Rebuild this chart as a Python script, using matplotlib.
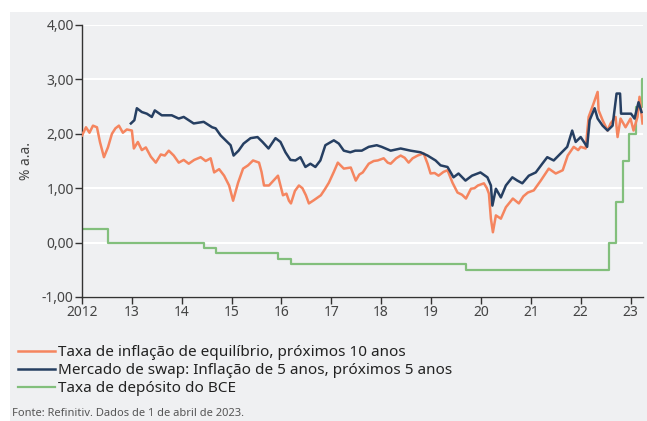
import matplotlib
matplotlib.use("Agg")
import matplotlib.pyplot as plt
from matplotlib.patches import Rectangle
from matplotlib.ticker import FuncFormatter

plt.rcParams["font.family"] = ["Noto Sans", "DejaVu Sans"]

# taxa de inflacao de equilibrio, proximos 10 anos (ano decimal, %)
be_x = [2012.00, 2012.08, 2012.15, 2012.22, 2012.30, 2012.36, 2012.44, 2012.52, 2012.60, 2012.67,
        2012.74, 2012.82, 2012.90, 2013.00, 2013.04, 2013.12, 2013.20, 2013.28, 2013.38, 2013.48,
        2013.58, 2013.66, 2013.74, 2013.84, 2013.94, 2014.04, 2014.14, 2014.25, 2014.38, 2014.48,
        2014.58, 2014.65, 2014.75, 2014.85, 2014.95, 2015.03, 2015.13, 2015.23, 2015.33, 2015.43,
        2015.55, 2015.60, 2015.65, 2015.75, 2015.85, 2015.93, 2016.03, 2016.10, 2016.15, 2016.19,
        2016.27, 2016.35, 2016.42, 2016.49, 2016.55, 2016.65, 2016.79, 2016.87, 2016.95, 2017.05,
        2017.13, 2017.25, 2017.39, 2017.49, 2017.56, 2017.63, 2017.75, 2017.85, 2017.93, 2018.05,
        2018.13, 2018.19, 2018.30, 2018.39, 2018.47, 2018.55, 2018.63, 2018.73, 2018.85, 2018.93,
        2018.99, 2019.07, 2019.15, 2019.25, 2019.33, 2019.43, 2019.53, 2019.62, 2019.70, 2019.80,
        2019.87, 2019.94, 2020.06, 2020.12, 2020.16, 2020.20, 2020.24, 2020.30, 2020.40, 2020.50,
        2020.64, 2020.76, 2020.85, 2020.94, 2021.06, 2021.20, 2021.36, 2021.50, 2021.64, 2021.74,
        2021.86, 2021.95, 2022.00, 2022.10, 2022.16, 2022.26, 2022.34, 2022.36, 2022.44, 2022.54,
        2022.60, 2022.70, 2022.74, 2022.80, 2022.90, 2023.00, 2023.06, 2023.14, 2023.18, 2023.24]
be_y = [1.97, 2.12, 2.02, 2.15, 2.12, 1.85, 1.57, 1.75, 2.00, 2.10,
        2.15, 2.02, 2.08, 2.06, 1.73, 1.85, 1.70, 1.75, 1.58, 1.47,
        1.62, 1.60, 1.69, 1.60, 1.47, 1.52, 1.45, 1.52, 1.57, 1.50,
        1.55, 1.29, 1.35, 1.23, 1.05, 0.77, 1.10, 1.36, 1.42, 1.51,
        1.47, 1.30, 1.05, 1.05, 1.15, 1.23, 0.87, 0.90, 0.77, 0.72,
        0.95, 1.05, 1.00, 0.87, 0.72, 0.78, 0.87, 0.98, 1.10, 1.30,
        1.47, 1.36, 1.38, 1.14, 1.25, 1.29, 1.45, 1.50, 1.51, 1.55,
        1.47, 1.45, 1.55, 1.60, 1.56, 1.47, 1.55, 1.60, 1.64, 1.45,
        1.27, 1.28, 1.23, 1.30, 1.33, 1.10, 0.92, 0.88, 0.81, 0.99,
        1.00, 1.05, 1.09, 1.00, 0.90, 0.44, 0.19, 0.50, 0.44, 0.65,
        0.81, 0.72, 0.85, 0.92, 0.96, 1.14, 1.36, 1.27, 1.33, 1.60,
        1.76, 1.70, 1.76, 1.73, 2.31, 2.56, 2.77, 2.43, 2.25, 2.06,
        2.19, 2.31, 1.94, 2.28, 2.12, 2.28, 2.06, 2.31, 2.68, 2.19]

# mercado de swap: inflacao de 5 anos, proximos 5 anos
sw_x = [2012.98, 2013.05, 2013.10, 2013.20, 2013.30, 2013.40, 2013.46, 2013.60, 2013.80, 2013.94,
        2014.04, 2014.14, 2014.24, 2014.44, 2014.61, 2014.68, 2014.78, 2014.88, 2014.98, 2015.04,
        2015.14, 2015.24, 2015.38, 2015.52, 2015.62, 2015.74, 2015.88, 2015.98, 2016.08, 2016.18,
        2016.28, 2016.38, 2016.48, 2016.58, 2016.68, 2016.78, 2016.88, 2017.05, 2017.15, 2017.25,
        2017.38, 2017.48, 2017.61, 2017.75, 2017.91, 2018.01, 2018.19, 2018.39, 2018.59, 2018.79,
        2018.93, 2019.09, 2019.19, 2019.33, 2019.45, 2019.55, 2019.69, 2019.82, 2019.99, 2020.13,
        2020.20, 2020.23, 2020.30, 2020.40, 2020.50, 2020.63, 2020.73, 2020.83, 2020.96, 2021.10,
        2021.23, 2021.33, 2021.46, 2021.60, 2021.73, 2021.83, 2021.90, 2022.00, 2022.13, 2022.18,
        2022.28, 2022.34, 2022.44, 2022.54, 2022.64, 2022.72, 2022.79, 2022.81, 2022.91, 2023.01,
        2023.08, 2023.16, 2023.22]
sw_y = [2.19, 2.25, 2.47, 2.40, 2.37, 2.31, 2.43, 2.34, 2.34, 2.28,
        2.31, 2.25, 2.19, 2.22, 2.12, 2.10, 1.97, 1.88, 1.79, 1.60,
        1.69, 1.82, 1.92, 1.94, 1.85, 1.73, 1.92, 1.85, 1.66, 1.52,
        1.51, 1.57, 1.39, 1.45, 1.39, 1.51, 1.79, 1.88, 1.82, 1.69,
        1.66, 1.69, 1.69, 1.76, 1.79, 1.76, 1.69, 1.73, 1.69, 1.66,
        1.60, 1.51, 1.42, 1.39, 1.20, 1.27, 1.14, 1.23, 1.29, 1.20,
        1.05, 0.68, 0.99, 0.83, 1.05, 1.20, 1.14, 1.09, 1.23, 1.29,
        1.45, 1.57, 1.51, 1.64, 1.76, 2.06, 1.85, 1.94, 1.76, 2.25,
        2.47, 2.28, 2.15, 2.06, 2.15, 2.74, 2.74, 2.37, 2.37, 2.37,
        2.28, 2.58, 2.40]

# taxa de deposito do BCE
bce_x = [2012.00, 2012.53, 2014.44, 2014.68, 2015.94, 2016.20, 2019.71,
         2022.57, 2022.70, 2022.84, 2022.97, 2023.10, 2023.22, 2023.25]
bce_y = [0.25, 0.00, -0.10, -0.20, -0.30, -0.40, -0.50,
         0.00, 0.75, 1.50, 2.00, 2.50, 3.00, 3.00]

year_ticks = list(range(2012, 2024))
year_labels = ["2012"] + [str(y)[2:] for y in year_ticks[1:]]
y_ticks = [-1, 0, 1, 2, 3, 4]

bg = "#eff0f2"
c_orange = "#f5855f"
c_blue = "#263f62"
c_green = "#82bf7c"

fig = plt.figure(figsize=(6.47, 4.21), dpi=100)
fig.patch.set_facecolor("white")
fig.patches.append(Rectangle((10 / 647, 0), 1, (421 - 12) / 421,
                             transform=fig.transFigure, facecolor=bg,
                             edgecolor="none", zorder=-10))

ax = fig.add_axes([82 / 647, 124 / 421, 561 / 647, 272 / 421])
ax.set_facecolor(bg)

ax.plot(be_x, be_y, color=c_orange, lw=1.8, label="Taxa de inflação de equilíbrio, próximos 10 anos", zorder=3)
ax.plot(sw_x, sw_y, color=c_blue, lw=1.8, label="Mercado de swap: Inflação de 5 anos, próximos 5 anos", zorder=4)
ax.step(bce_x, bce_y, where="post", color=c_green, lw=1.6, label="Taxa de depósito do BCE", zorder=2)

ax.set_xlim(2012, 2023.25)
ax.set_ylim(-1, 4)
ax.set_xticks(year_ticks)
ax.set_xticklabels(year_labels)
ax.set_yticks(y_ticks)
ax.yaxis.set_major_formatter(FuncFormatter(lambda v, p: f"{v:.2f}".replace(".", ",")))

ax.grid(axis="y", color="white", lw=1.5)
ax.set_axisbelow(True)
for s in ["top", "right"]:
    ax.spines[s].set_visible(False)
for s in ["left", "bottom"]:
    ax.spines[s].set_color("#333333")
    ax.spines[s].set_linewidth(1.0)
ax.tick_params(colors="#333333", labelcolor="#444444", labelsize=10, length=5, width=1.0, pad=1)

ax.set_ylabel("% a.a.", fontsize=10, color="#444444", labelpad=6)

fig.legend(loc="upper left", bbox_to_anchor=(18 / 647, 1 - 345 / 421), frameon=False,
           fontsize=11, handlelength=2.4, handletextpad=0.25, labelspacing=0.2,
           borderpad=0, borderaxespad=0, labelcolor="#222222")

fig.text(12 / 647, 2 / 421, "Fonte: Refinitiv. Dados de 1 de abril de 2023.",
         fontsize=8, color="#555555", ha="left", va="bottom")

fig.savefig("out.png", dpi=100, facecolor=fig.get_facecolor())
